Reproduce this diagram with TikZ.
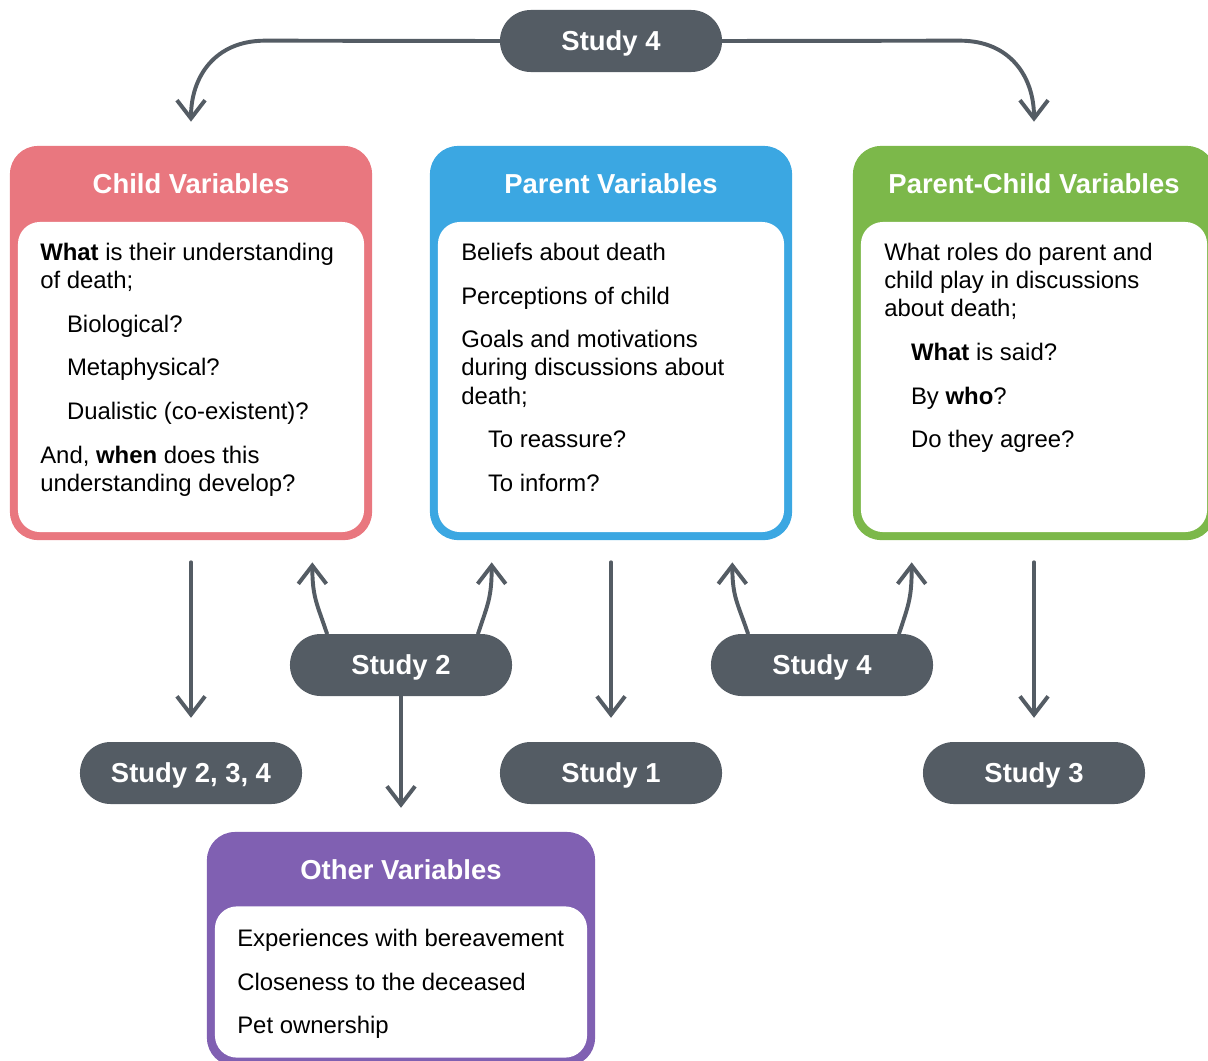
\documentclass[tikz,border=0pt]{standalone}
\usepackage{fontspec}
\setmainfont{Liberation Sans}
\usetikzlibrary{arrows.meta,calc}
\definecolor{childred}{HTML}{E9777F}
\definecolor{parentblue}{HTML}{3BA7E2}
\definecolor{pcgreen}{HTML}{7CB84A}
\definecolor{otherpurple}{HTML}{8060B2}
\definecolor{slate}{HTML}{545C64}
\begin{document}
\begin{tikzpicture}[x=0.025cm,y=-0.025cm,
    arr/.style={draw=slate,line width=2.8pt,line cap=round,-{Straight Barb[length=13pt,width=20pt]}},
    pill/.style={fill=slate,rounded corners=0.77cm,minimum width=5.55cm,minimum height=1.55cm,text=white,text depth=0pt,font=\fontsize{19.5}{22}\selectfont\bfseries},
    outerbox/.style={rounded corners=0.7cm,minimum width=9.05cm,minimum height=9.85cm},
    innerbox/.style={fill=white,rounded corners=0.55cm,minimum width=8.65cm},
    head/.style={text=white,font=\fontsize{19.5}{22}\selectfont\bfseries},
    body/.style={anchor=north west,inner sep=0pt,align=left,font=\fontsize{17}{20}\selectfont}]
\useasboundingbox (0,0) rectangle (1208,1060);

% variable boxes
\node[outerbox,fill=childred] (child) at (191,343) {};
\node[innerbox,minimum height=7.75cm] (childin) at (191,377) {};
\node[head] (childhead) at (191,184) {Child Variables};
\node[body] (childtext) at (40,243) {\textbf{What} is their understanding\\of death;\\[11pt]
    \hspace*{19pt}Biological?\\[11pt]\hspace*{19pt}Metaphysical?\\[11pt]\hspace*{19pt}Dualistic (co-existent)?\\[11pt]
    And, \textbf{when} does this\\understanding develop?};

\node[outerbox,fill=parentblue] (parent) at (611,343) {};
\node[innerbox,minimum height=7.75cm] (parentin) at (611,377) {};
\node[head] (parenthead) at (611,184) {Parent Variables};
\node[body] (parenttext) at (461,243) {Beliefs about death\\[11pt]Perceptions of child\\[11pt]
    Goals and motivations\\during discussions about\\death;\\[11pt]
    \hspace*{19pt}To reassure?\\[11pt]\hspace*{19pt}To inform?};

\node[outerbox,fill=pcgreen] (pc) at (1034,343) {};
\node[innerbox,minimum height=7.75cm] (pcin) at (1034,377) {};
\node[head] (pchead) at (1034,184) {Parent-Child Variables};
\node[body] (pctext) at (884,243) {What roles do parent and\\child play in discussions\\about death;\\[11pt]
    \hspace*{19pt}\textbf{What} is said?\\[11pt]\hspace*{19pt}By \textbf{who}?\\[11pt]\hspace*{19pt}Do they agree?};

\node[outerbox,fill=otherpurple,minimum width=9.7cm,minimum height=5.85cm] (other) at (401,949) {};
\node[innerbox,minimum width=9.3cm,minimum height=3.78cm] (otherin) at (401,982) {};
\node[head] (otherhead) at (401,870) {Other Variables};
\node[body] (othertext) at (237,929) {Experiences with bereavement\\[11pt]Closeness to the deceased\\[11pt]Pet ownership};

% studies
\node[pill] (s4top) at (611,41) {Study 4};
\node[pill] (s2) at (401,665) {Study 2};
\node[pill] (s4mid) at (822,665) {Study 4};
\node[pill] (s234) at (191,773) {Study 2, 3, 4};
\node[pill] (s1) at (611,773) {Study 1};
\node[pill] (s3) at (1034,773) {Study 3};

% connectors
\draw[arr] (s4top.west) -- ($(child.north)+(74,-105)$) .. controls +(-50,0) and +(0,-45) .. ($(child.north)+(0,-24)$);
\draw[arr] (s4top.east) -- ($(pc.north)+(-74,-105)$) .. controls +(50,0) and +(0,-45) .. ($(pc.north)+(0,-24)$);
\draw[arr,shorten <=15.6pt,shorten >=17pt] (child) -- (s234);
\draw[arr,shorten <=15.6pt,shorten >=17pt] (parent) -- (s1);
\draw[arr,shorten <=15.6pt,shorten >=17pt] (pc) -- (s3);
\draw[arr,shorten >=17pt] (s2) -- (other);
\draw[arr] ($(s2.north)+(-74,0)$) .. controls +(-10,-30) and +(0,35) .. ($(child.south east)+(-60,22)$);
\draw[arr] ($(s2.north)+(77,0)$) .. controls +(10,-30) and +(0,35) .. ($(parent.south west)+(62,22)$);
\draw[arr] ($(s4mid.north)+(-74,0)$) .. controls +(-10,-30) and +(0,35) .. ($(parent.south east)+(-60,22)$);
\draw[arr] ($(s4mid.north)+(77,0)$) .. controls +(10,-30) and +(0,35) .. ($(pc.south west)+(59,22)$);
\end{tikzpicture}
\end{document}
